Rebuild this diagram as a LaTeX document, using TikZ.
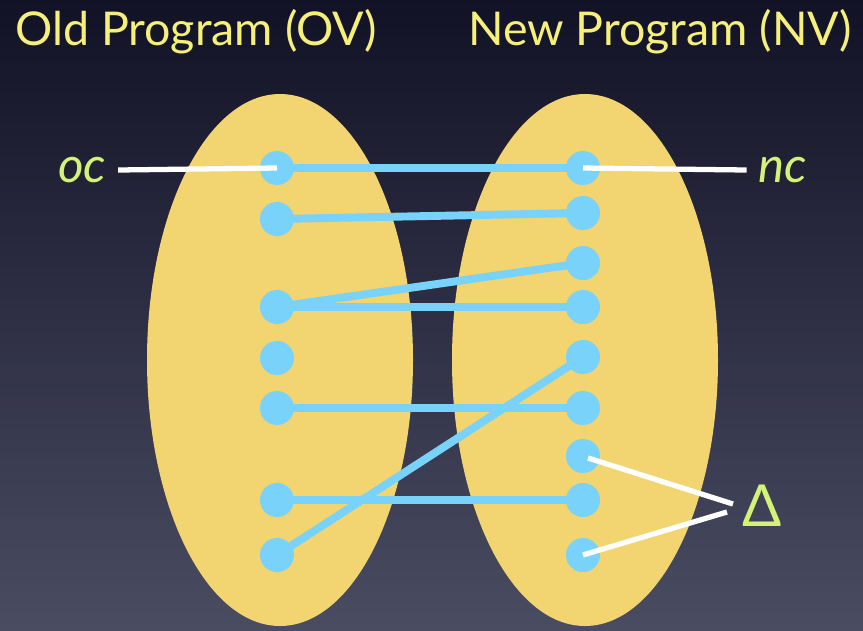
\documentclass[tikz,border=0pt]{standalone}
\usepackage{fontspec}
\setmainfont{Lato}
\usepackage{tikz}
\usetikzlibrary{positioning, calc}
\usepackage{xcolor}
\definecolor{bgtop}{RGB}{18,18,38}
\definecolor{bgbot}{RGB}{74,76,98}
\definecolor{setfill}{RGB}{242,212,112}
\definecolor{dotblue}{RGB}{120,210,250}
\definecolor{titleyel}{RGB}{246,240,122}
\definecolor{labgreen}{RGB}{212,242,120}
\pgfdeclarelayer{back}
\pgfdeclarelayer{links}
\pgfsetlayers{back,links,main}

\begin{document}
\begin{tikzpicture}[x=0.02cm, y=-0.02cm,
  dot/.style={circle, fill=dotblue, inner sep=0pt, minimum size=34*0.02cm},
  match/.style={dotblue, line width=4.5pt},
  pointer/.style={white, line width=3pt},
  title/.style={titleyel, font=\fontsize{26.5}{30}\selectfont, anchor=base west},
  lab/.style={labgreen, font=\fontsize{28}{32}\selectfont\itshape}]
  \useasboundingbox (0,0) rectangle (863,630);
  % titles
  \node[title] (ov) at (9,45) {Old Program (OV)};
  \node[title] (nv) at (462,45) {New Program (NV)};
  % statements
  \foreach \i/\y in {1/168, 2/219, 3/307, 4/358, 5/408, 6/500, 7/555}
    \node[dot] (o\i) at (277,\y) {};
  \foreach \i/\y in {1/168, 2/213, 3/263, 4/307, 5/357, 6/408, 7/456, 8/500, 9/555}
    \node[dot] (n\i) at (583,\y) {};
  % background and the two programs
  \begin{pgfonlayer}{back}
    \shade[top color=bgtop, bottom color=bgbot] (0,0) rectangle (863,630);
    \fill[setfill] (280,360) ellipse (133 and 266);
    \fill[setfill] (585,360) ellipse (133 and 266);
  \end{pgfonlayer}
  % correspondence
  \begin{pgfonlayer}{links}
    \draw[match] (o1.center) -- (n1.center);
    \draw[match] (o2.center) -- (n2.center);
    \draw[match] (o3.center) -- (n3.center);
    \draw[match] (o3.center) -- (n4.center);
    \draw[match] (o5.center) -- (n6.center);
    \draw[match] (o6.center) -- (n8.center);
    \draw[match] (o7.center) -- (n5.center);
  \end{pgfonlayer}
  % labels
  \node[lab] (oc) at (82,170) {oc};
  \node[lab] (nc) at (783,170) {nc};
  \node[labgreen, font=\fontsize{33}{36}\selectfont] (delta) at (762,506) {Δ};
  \coordinate (dtip) at (730,507);
  \draw[pointer] (oc.east) ++(6,0) coordinate (ocend) -- (o1.center);
  \draw[pointer] (nc.west) ++(-6,0) coordinate (ncend) -- (n1.center);
  \draw[pointer] (n7.center) ++(5,2) -- ($(dtip)+(3,-3)$);
  \draw[pointer] (n9.center) -- ($(dtip)+(-3,5)$);
\end{tikzpicture}
\end{document}
